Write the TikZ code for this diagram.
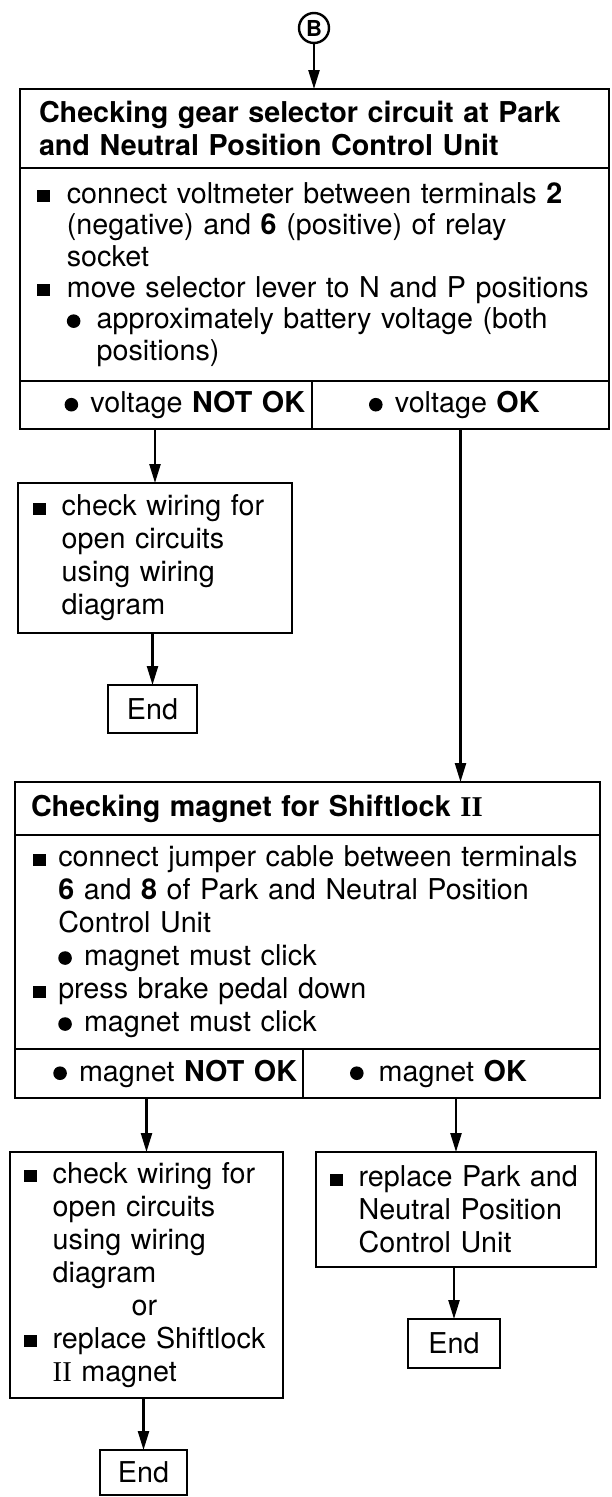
\documentclass[tikz,border=0pt]{standalone}
\usepackage{fontspec}
\setmainfont{TeX Gyre Heros}
\newfontfamily\romf{Liberation Serif}
\usetikzlibrary{arrows.meta}
\newcommand\flowtxt{\fontsize{28.7}{33}\selectfont}
\newcommand\sqb[1]{\makebox[#1][l]{\rule[0.04em]{0.45em}{0.42em}}}
\newcommand\dtb[1]{\makebox[#1][l]{\tikz[baseline=0pt]\fill (6.8pt,7.8pt) circle[radius=6.8pt];}}
\tikzset{
  hdr/.style  = {draw, line width=2.6pt, outer sep=0pt, anchor=north west,
                 align=left, inner ysep=0pt, font=\flowtxt\bfseries},
  body/.style = {draw, line width=2.6pt, outer sep=0pt, anchor=north west,
                 align=left, inner ysep=0pt, font=\flowtxt},
  res/.style  = {draw, line width=2.6pt, outer sep=0pt, anchor=north west,
                 inner ysep=0pt, font=\flowtxt},
  endbox/.style = {draw, line width=2.6pt, outer sep=0pt, anchor=north west,
                 inner sep=0pt, font=\flowtxt},
  ar/.style   = {-{Triangle[length=19pt,width=11pt]}, line width=2.4pt}
}
\begin{document}
\begin{tikzpicture}[x=1pt, y=-1pt]
  \useasboundingbox (0,0) rectangle (611,1497);
  \node[circle, draw, line width=2.4pt, minimum size=30pt, inner sep=0pt,
        font=\fontsize{22}{22}\selectfont\bfseries] (B) at (314,28) {B};

  % first check
  \node[hdr, text width=551pt, inner xsep=19pt, minimum height=79pt] (t1) at (20,89)
       {Checking gear selector circuit at Park\\and Neutral Position Control Unit};
  \node[body, text width=555pt, inner xsep=17pt, minimum height=213pt,
        font=\fontsize{28.7}{31.4}\selectfont] (b1) at (20,168)
       {\sqb{1.04em}connect voltmeter between terminals \textbf{2}\\
        \hspace*{1.04em}(negative) and \textbf{6} (positive) of relay\\
        \hspace*{1.04em}socket\\
        \sqb{1.04em}move selector lever to N and P positions\\
        \hspace*{1.04em}\dtb{1.04em}approximately battery voltage (both\\
        \hspace*{2.08em}positions)};
  \node[res, text width=278pt, inner xsep=7pt, minimum height=48pt, align=right] (nl1) at (20,381)
       {\dtb{0.9em}voltage \textbf{NOT OK}};
  \node[res, text width=183pt, inner xsep=57pt, minimum height=48pt, align=left] (ok1) at (312,381)
       {\dtb{0.9em}voltage \textbf{OK}};
  \node[body, text width=244pt, inner xsep=15pt, minimum height=150pt] (chk) at (18,483)
       {\sqb{1em}check wiring for\\
        \hspace*{1em}open circuits\\
        \hspace*{1em}using wiring\\
        \hspace*{1em}diagram};
  \node[endbox, minimum width=89pt, minimum height=48pt] (end1) at (108,685) {End};

  % second check
  \node[hdr, text width=553pt, inner xsep=16pt, minimum height=53pt] (t2) at (15,782)
       {Checking magnet for Shiftlock {\romf II}};
  \node[body, text width=549pt, inner xsep=18pt, minimum height=214pt] (b2) at (15,835)
       {\sqb{0.88em}connect jumper cable between terminals\\
        \hspace*{0.88em}\textbf{6} and \textbf{8} of Park and Neutral Position\\
        \hspace*{0.88em}Control Unit\\
        \hspace*{0.88em}\dtb{0.9em}magnet must click\\
        \sqb{0.88em}press brake pedal down\\
        \hspace*{0.88em}\dtb{0.9em}magnet must click};
  \node[res, text width=276pt, inner xsep=6pt, minimum height=49pt, align=right] (nl2) at (15,1049)
       {\dtb{0.9em}magnet \textbf{NOT OK}};
  \node[res, text width=203pt, inner xsep=47pt, minimum height=49pt, align=left] (ok2) at (303,1049)
       {\dtb{1em}magnet \textbf{OK}};
  \node[body, text width=245pt, inner xsep=14pt, minimum height=246pt] (fixl) at (10,1152)
       {\sqb{1em}check wiring for\\
        \hspace*{1em}open circuits\\
        \hspace*{1em}using wiring\\
        \hspace*{1em}diagram\\
        \hspace*{3.75em}or\\
        \sqb{1em}replace Shiftlock\\
        \hspace*{1em}{\romf II} magnet};
  \node[body, text width=252pt, inner xsep=14pt, minimum height=115pt] (fixr) at (316,1152)
       {\sqb{1em}replace Park and\\
        \hspace*{1em}Neutral Position\\
        \hspace*{1em}Control Unit};
  \node[endbox, minimum width=87pt, minimum height=45pt] (end2) at (100,1450) {End};
  \node[endbox, minimum width=92pt, minimum height=49pt] (end3) at (408,1319) {End};

  \draw[ar] (B.south) -- (B.south |- t1.north);
  \draw[ar] (chk.north |- nl1.south) -- (chk.north);
  \draw[ar] (end1.north |- chk.south) -- (end1.north);
  \draw[ar] (ok1.south) -- (ok1.south |- t2.north);
  \draw[ar] (fixl.north |- nl2.south) -- (fixl.north);
  \draw[ar] (fixr.north |- ok2.south) -- (fixr.north);
  \draw[ar] (end2.north |- fixl.south) -- (end2.north);
  \draw[ar] (end3.north |- fixr.south) -- (end3.north);
\end{tikzpicture}
\end{document}
